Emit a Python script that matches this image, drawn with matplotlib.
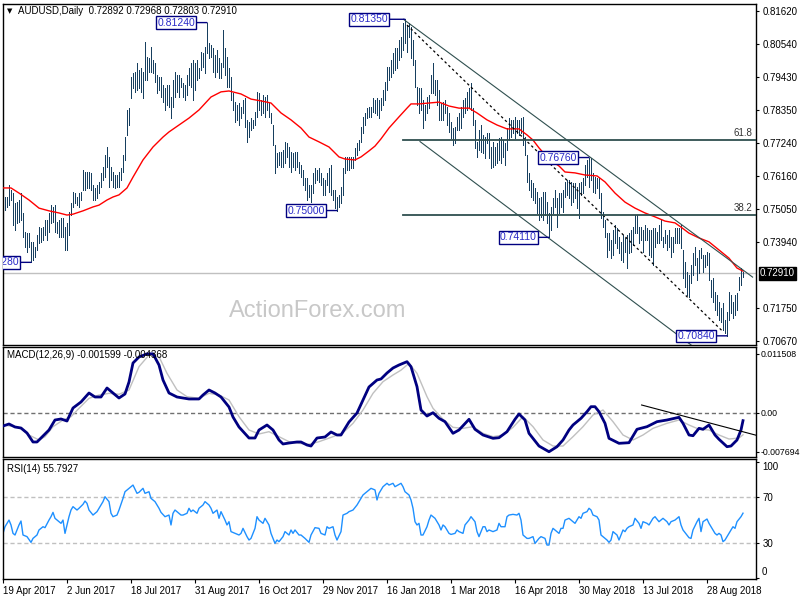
import numpy as np
import matplotlib.pyplot as plt

plt.rcParams['font.family'] = ['Liberation Sans', 'DejaVu Sans']
plt.rcParams['font.size'] = 7

# daily highs / lows, in pips (x 1e-4)
highs = [
    7562, 7545, 7545, 7585, 7568, 7558, 7525, 7528, 7535, 7558,   # 0
    7492, 7429, 7425, 7425, 7396, 7396, 7379, 7419, 7445, 7442,
    7445, 7469, 7469, 7492, 7518, 7512, 7518, 7462, 7469, 7475,
    7475, 7445, 7459, 7495, 7525, 7562, 7558, 7545, 7558, 7562,
    7635, 7628, 7628, 7628, 7625, 7585, 7575, 7585, 7595, 7625,
    7645, 7684, 7711, 7678, 7645, 7628, 7618, 7618, 7628, 7641,   # 50
    7684, 7744, 7834, 7840, 7943, 7957, 7960, 7990, 7967, 7973,
    7960, 8060, 8010, 8006, 8043, 8000, 7990, 7950, 7943, 7943,
    7917, 7907, 7917, 7917, 7877, 7933, 7960, 7950, 7950, 7940,
    7923, 7917, 7950, 7973, 7990, 8000, 7990, 8000, 7973, 8026,
    8023, 8043, 8124, 8056, 8050, 8040, 8016, 8033, 8006, 7990,   # 100
    8099, 8040, 8010, 7973, 7943, 7890, 7860, 7850, 7857, 7844,
    7867, 7874, 7801, 7794, 7807, 7801, 7827, 7894, 7890, 7867,
    7884, 7877, 7884, 7857, 7824, 7784, 7718, 7691, 7694, 7694,
    7701, 7728, 7724, 7711, 7694, 7691, 7694, 7694, 7661, 7651,
    7635, 7608, 7608, 7585, 7585, 7625, 7641, 7635, 7641, 7625,   # 150
    7608, 7601, 7625, 7641, 7651, 7568, 7568, 7545, 7552, 7578,
    7641, 7678, 7678, 7678, 7678, 7678, 7708, 7724, 7734, 7777,
    7811, 7824, 7840, 7844, 7844, 7874, 7867, 7874, 7867, 7874,
    7900, 7927, 7977, 7977, 8000, 8023, 8040, 8040, 8066, 8076,
    8123, 8135, 8116, 8123, 8109, 8066, 8000, 7910, 7907, 7907,   # 200
    7867, 7850, 7877, 7884, 7950, 7990, 7933, 7933, 7900, 7857,
    7860, 7867, 7844, 7824, 7794, 7774, 7777, 7811, 7824, 7844,
    7867, 7874, 7894, 7907, 7923, 7840, 7801, 7728, 7767, 7784,
    7751, 7744, 7757, 7757, 7711, 7728, 7711, 7724, 7741, 7744,
    7734, 7724, 7774, 7807, 7801, 7801, 7811, 7801, 7801, 7807,   # 250
    7811, 7744, 7684, 7625, 7601, 7591, 7575, 7562, 7542, 7545,
    7562, 7562, 7528, 7492, 7512, 7542, 7568, 7542, 7558, 7558,
    7568, 7595, 7601, 7601, 7595, 7591, 7591, 7578, 7591, 7595,
    7608, 7651, 7668, 7676, 7674, 7625, 7611, 7608, 7608, 7558,
    7495, 7469, 7425, 7425, 7402, 7435, 7452, 7442, 7412, 7396,   # 300
    7419, 7409, 7419, 7425, 7435, 7445, 7485, 7485, 7445, 7445,
    7435, 7452, 7442, 7435, 7435, 7442, 7442, 7429, 7452, 7469,
    7412, 7435, 7419, 7435, 7412, 7412, 7442, 7442, 7442, 7452,
    7369, 7329, 7296, 7286, 7319, 7359, 7379, 7342, 7369, 7376,
    7352, 7352, 7362, 7359, 7269, 7276, 7230, 7220, 7196, 7176,   # 350
    7193, 7137, 7163, 7230, 7220, 7196, 7220, 7226, 7279, 7309,
    7297,
]
lows = [
    7492, 7502, 7512, 7518, 7535, 7452, 7435, 7459, 7462, 7469,   # 0
    7412, 7379, 7362, 7379, 7328, 7336, 7346, 7369, 7392, 7396,
    7402, 7419, 7402, 7429, 7459, 7462, 7429, 7425, 7412, 7412,
    7412, 7369, 7369, 7419, 7485, 7512, 7525, 7518, 7512, 7535,
    7568, 7568, 7575, 7575, 7568, 7535, 7535, 7542, 7558, 7578,
    7601, 7611, 7645, 7578, 7601, 7578, 7575, 7578, 7578, 7601,   # 50
    7628, 7668, 7751, 7784, 7874, 7907, 7894, 7900, 7907, 7894,
    7874, 7933, 7933, 7960, 7960, 7957, 7927, 7890, 7900, 7877,
    7860, 7834, 7850, 7844, 7807, 7844, 7877, 7894, 7877, 7910,
    7877, 7867, 7884, 7917, 7910, 7867, 7900, 7933, 7940, 7967,
    7977, 7957, 8023, 8006, 8010, 7960, 7943, 7960, 7940, 7940,   # 100
    7977, 7950, 7910, 7910, 7867, 7834, 7794, 7801, 7784, 7807,
    7824, 7777, 7728, 7744, 7767, 7774, 7784, 7811, 7834, 7817,
    7824, 7811, 7834, 7811, 7791, 7718, 7625, 7645, 7651, 7645,
    7645, 7658, 7678, 7645, 7628, 7645, 7635, 7645, 7625, 7611,
    7585, 7568, 7535, 7545, 7528, 7558, 7591, 7601, 7595, 7585,   # 150
    7552, 7552, 7585, 7562, 7552, 7535, 7508, 7500, 7512, 7525,
    7552, 7625, 7635, 7635, 7641, 7641, 7668, 7684, 7701, 7728,
    7757, 7784, 7807, 7811, 7811, 7827, 7824, 7817, 7807, 7834,
    7850, 7867, 7900, 7933, 7943, 7957, 7967, 7973, 8000, 8010,
    8033, 8056, 8026, 8076, 8006, 7983, 7910, 7850, 7824, 7834,   # 200
    7774, 7801, 7824, 7840, 7890, 7890, 7884, 7850, 7801, 7801,
    7801, 7824, 7784, 7761, 7741, 7718, 7724, 7767, 7767, 7774,
    7811, 7824, 7834, 7844, 7834, 7784, 7708, 7678, 7701, 7694,
    7691, 7674, 7724, 7674, 7641, 7645, 7651, 7658, 7668, 7658,
    7678, 7651, 7701, 7734, 7744, 7757, 7741, 7757, 7751, 7757,   # 250
    7718, 7684, 7595, 7568, 7545, 7535, 7525, 7492, 7469, 7479,
    7469, 7485, 7459, 7411, 7435, 7492, 7512, 7445, 7492, 7512,
    7495, 7545, 7552, 7542, 7518, 7528, 7542, 7508, 7475, 7552,
    7558, 7585, 7611, 7578, 7601, 7562, 7558, 7575, 7542, 7475,
    7445, 7412, 7346, 7369, 7342, 7352, 7392, 7376, 7359, 7336,   # 300
    7329, 7362, 7309, 7359, 7362, 7386, 7425, 7425, 7392, 7402,
    7362, 7402, 7402, 7352, 7346, 7319, 7379, 7392, 7392, 7402,
    7379, 7392, 7369, 7379, 7346, 7362, 7392, 7392, 7392, 7376,
    7276, 7246, 7220, 7213, 7259, 7286, 7319, 7269, 7293, 7342,
    7296, 7313, 7319, 7269, 7213, 7196, 7170, 7153, 7137, 7130,   # 350
    7103, 7093, 7084, 7137, 7160, 7143, 7153, 7170, 7236, 7253,
    7280,
]

# red moving average, (bar, pips)
ma_points = [
    (0, 7575), (4, 7575), (8, 7558), (13, 7535), (18, 7508), (23, 7499), (28, 7492), (32, 7485),
    (35, 7488), (40, 7499), (45, 7512), (48, 7518), (52, 7535), (55, 7545), (58, 7552), (62, 7575),
    (65, 7611), (70, 7668), (75, 7711), (80, 7744), (83, 7761), (88, 7784), (93, 7807), (98, 7834),
    (104, 7877), (109, 7894), (113, 7897), (119, 7887), (124, 7870), (129, 7864), (134, 7857),
    (139, 7824), (144, 7801), (149, 7774), (153, 7744), (158, 7728), (163, 7711), (168, 7678),
    (171, 7671), (176, 7668), (179, 7678), (183, 7698), (186, 7714), (189, 7738), (193, 7774),
    (198, 7811), (202, 7840), (204, 7854), (208, 7854), (213, 7857), (218, 7860), (223, 7847),
    (228, 7840), (233, 7840), (237, 7824), (242, 7801), (247, 7784), (252, 7771), (258, 7771),
    (262, 7751), (265, 7734), (268, 7708), (272, 7678), (275, 7661), (278, 7648), (281, 7628),
    (286, 7625), (291, 7618), (297, 7615), (301, 7595), (306, 7558), (311, 7528), (316, 7508),
    (321, 7492), (326, 7479), (331, 7465), (336, 7459), (339, 7445), (343, 7425), (348, 7409),
    (353, 7396), (358, 7369), (363, 7342), (367, 7309), (370, 7299),
]

# MACD main / signal, (bar, value x 1e-4)
macd_main = [
    (0, -26.5), (3, -22.5), (6, -28.4), (9, -30.4), (12, -40.2), (15, -57.8), (17, -57.8),
    (19, -50.0), (23, -34.3), (26, -14.7), (29, -12.7), (32, -16.7), (35, 8.8), (39, 20.6),
    (43, 38.2), (46, 30.4), (49, 30.4), (52, 48.0), (55, 38.2), (58, 28.4), (61, 36.3),
    (63, 59.8), (65, 97.0), (68, 108.8), (72, 115.0), (75, 115.0), (78, 93.1), (80, 63.7),
    (83, 38.2), (87, 30.4), (90, 28.4), (93, 26.5), (98, 26.5), (100, 34.3), (103, 44.1),
    (106, 38.2), (109, 30.4), (113, 10.8), (115, -8.8), (118, -28.4), (123, -50.0), (126, -50.0),
    (128, -34.3), (132, -24.5), (135, -34.3), (138, -53.9), (140, -61.7), (143, -59.8),
    (147, -57.8), (149, -57.8), (152, -63.7), (154, -65.7), (157, -50.0), (161, -48.0),
    (164, -38.2), (167, -44.1), (169, -44.1), (173, -18.6), (177, -1.0), (180, 24.5),
    (183, 50.0), (187, 63.7), (189, 65.7), (192, 77.4), (195, 87.2), (198, 93.1), (202, 99.6),
    (204, 89.8), (207, 50.6), (209, 4.9), (212, -6.9), (215, -0.4), (218, -11.4), (221, -18.0),
    (225, -40.8), (228, -34.3), (233, -13.3), (236, -32.9), (240, -44.1), (245, -50.6),
    (248, -49.4), (252, -37.6), (256, -13.3), (258, -2.9), (261, -14.7), (263, -40.8),
    (268, -65.7), (270, -70.2), (273, -76.9), (277, -67.0), (280, -53.9), (283, -34.3),
    (285, -24.5), (289, -11.4), (292, 1.6), (294, 11.4), (296, 11.4), (298, 1.6), (301, -21.2),
    (303, -50.6), (308, -60.4), (313, -59.2), (317, -32.9), (322, -27.8), (327, -18.0),
    (332, -14.7), (338, -9.4), (340, -21.2), (343, -44.1), (345, -45.5), (348, -31.0),
    (350, -32.9), (353, -24.5), (356, -44.1), (358, -52.5), (362, -67.0), (364, -65.7),
    (367, -53.9), (369, -34.3), (370, -16.0),
]
macd_signal = [
    (0, -24.5), (8, -29.1), (13, -44.1), (18, -53.9), (21, -47.4), (25, -27.8), (30, -14.7),
    (34, -8.2), (38, 8.2), (43, 27.8), (48, 34.3), (53, 37.6), (58, 35.7), (63, 44.1),
    (68, 89.8), (73, 112.7), (78, 109.4), (82, 76.8), (87, 44.1), (92, 31.0), (98, 27.8),
    (103, 37.6), (108, 34.3), (113, 24.5), (118, -8.2), (123, -34.3), (128, -42.1),
    (133, -37.6), (138, -47.4), (143, -57.2), (148, -60.4), (153, -62.3), (158, -57.2),
    (165, -47.4), (170, -39.6), (175, -21.2), (180, 4.9), (185, 37.6), (190, 60.4), (195, 73.5),
    (199, 83.0), (203, 96.4), (207, 76.8), (212, 31.0), (215, 8.2), (220, -13.3), (225, -29.1),
    (230, -31.0), (235, -27.8), (240, -40.8), (245, -47.4), (250, -44.1), (255, -29.1),
    (260, -8.2), (265, -27.8), (270, -53.9), (275, -65.7), (280, -65.7), (285, -47.4),
    (290, -27.8), (295, -4.9), (300, 4.9), (305, -18.0), (310, -44.1), (315, -53.9),
    (320, -44.1), (325, -31.0), (332, -21.2), (338, -14.7), (343, -24.5), (348, -32.9),
    (353, -34.3), (358, -44.1), (363, -52.0), (368, -50.0), (370, -43.7),
]

# RSI(14), (bar, value)
rsi_points = [
    (0, 38.5), (1, 44.2), (3, 49.9), (4, 45.7), (5, 38.5), (6, 37.1), (8, 45.7), (9, 49.1),
    (10, 37.1), (12, 35.7), (14, 30.8), (15, 34.2), (17, 37.1), (18, 41.4), (20, 44.2),
    (21, 43.4), (23, 49.9), (24, 52.8), (25, 56.5), (26, 51.4), (28, 48.5), (29, 47.1),
    (30, 49.9), (31, 38.5), (33, 52.8), (34, 58.5), (35, 61.4), (37, 58.5), (38, 60.0),
    (40, 63.4), (41, 66.2), (42, 64.2), (43, 58.5), (45, 54.2), (47, 57.1), (48, 60.0),
    (50, 65.7), (51, 69.9), (53, 65.7), (54, 55.7), (55, 52.8), (57, 54.2), (58, 58.5),
    (60, 68.5), (61, 74.2), (63, 77.1), (64, 78.5), (65, 79.9), (67, 72.8), (68, 73.7),
    (70, 77.1), (71, 72.8), (73, 74.2), (74, 68.5), (76, 65.7), (78, 60.0), (79, 56.5),
    (81, 52.8), (83, 54.2), (84, 45.7), (85, 55.7), (86, 58.5), (88, 55.7), (89, 54.2),
    (90, 54.2), (92, 55.7), (93, 60.0), (94, 57.1), (95, 58.5), (97, 55.7), (98, 60.0),
    (100, 62.8), (101, 65.7), (103, 62.8), (104, 60.0), (105, 55.7), (107, 58.5), (108, 51.4),
    (109, 57.1), (111, 49.9), (112, 45.7), (113, 48.5), (114, 40.0), (116, 38.5), (118, 37.1),
    (119, 38.5), (120, 42.8), (122, 35.7), (123, 32.8), (124, 34.2), (126, 42.8), (127, 52.8),
    (128, 49.9), (130, 47.1), (131, 51.4), (133, 45.7), (134, 38.5), (136, 29.9), (137, 32.8),
    (138, 31.4), (140, 35.7), (141, 40.0), (143, 37.1), (144, 41.4), (145, 38.5), (146, 41.4),
    (148, 37.1), (149, 37.1), (151, 34.2), (153, 30.8), (154, 37.1), (156, 43.4), (158, 42.8),
    (159, 38.5), (161, 37.1), (162, 44.2), (163, 42.8), (165, 44.2), (166, 37.1), (167, 32.8),
    (169, 40.0), (170, 54.2), (172, 55.7), (173, 57.1), (175, 58.5), (177, 62.8), (178, 65.7),
    (180, 71.4), (182, 74.2), (184, 77.1), (186, 75.7), (187, 67.1), (188, 72.8), (190, 78.5),
    (192, 81.4), (193, 79.9), (195, 81.4), (196, 78.5), (198, 80.5), (199, 81.4), (200, 78.5),
    (201, 74.2), (203, 71.4), (204, 67.1), (205, 60.0), (206, 48.5), (207, 45.7), (208, 47.1),
    (209, 37.1), (210, 37.1), (212, 44.2), (213, 49.9), (214, 54.2), (216, 51.4), (218, 45.7),
    (219, 41.4), (220, 45.7), (221, 44.2), (223, 38.5), (224, 37.6), (226, 38.5), (227, 41.4),
    (228, 40.0), (230, 38.5), (231, 45.7), (233, 49.9), (234, 52.8), (236, 48.5), (237, 40.0),
    (238, 35.7), (240, 44.2), (241, 44.2), (242, 40.0), (243, 41.4), (245, 40.0), (247, 41.4),
    (248, 47.1), (249, 44.2), (251, 44.2), (252, 52.8), (253, 54.2), (255, 54.8), (257, 54.2),
    (258, 55.7), (259, 49.9), (260, 37.1), (262, 34.2), (263, 34.2), (265, 35.7), (266, 29.9),
    (268, 34.2), (269, 35.7), (271, 34.2), (272, 28.5), (273, 28.5), (274, 38.5), (275, 42.8),
    (276, 41.4), (278, 38.5), (279, 42.8), (280, 42.8), (281, 49.9), (283, 51.4), (284, 49.9),
    (285, 48.5), (286, 47.1), (288, 52.8), (289, 51.4), (290, 55.7), (292, 57.1), (293, 60.0),
    (294, 58.5), (295, 54.2), (297, 52.8), (298, 49.9), (299, 37.1), (300, 35.7), (302, 32.8),
    (303, 30.8), (304, 32.8), (305, 40.0), (307, 37.1), (308, 32.8), (310, 41.4), (311, 40.0),
    (312, 42.8), (313, 44.2), (315, 45.7), (316, 51.4), (318, 47.1), (319, 42.8), (320, 48.5),
    (322, 47.1), (323, 45.7), (325, 51.4), (326, 52.8), (328, 48.5), (329, 49.9), (330, 51.4),
    (332, 48.5), (333, 45.7), (334, 48.5), (336, 49.9), (337, 51.4), (338, 52.8), (339, 45.7),
    (340, 41.4), (342, 37.1), (343, 34.8), (344, 34.2), (345, 41.4), (347, 48.5), (348, 51.4),
    (349, 40.0), (350, 48.5), (352, 50.8), (353, 47.1), (354, 44.2), (356, 38.5), (357, 37.1),
    (358, 38.5), (359, 37.1), (360, 31.4), (361, 32.8), (362, 35.7), (364, 41.4), (365, 44.2),
    (366, 42.8), (367, 48.5), (369, 52.8), (370, 55.8),
]

# swing labels (bar, price)
swings = [(14, 0.7328), (102, 0.8124), (167, 0.7500), (201, 0.8135),
          (273, 0.7411), (293, 0.7676), (362, 0.7084)]
swing_gap = [10, 10, 10, 15, 10, 10, 10]

fib_levels = [(0.7734, '61.8'), (0.7485, '38.2')]
last_price = 0.72910
price_ticks = [0.81620, 0.80540, 0.79430, 0.78350, 0.77240, 0.76160,
               0.75050, 0.73940, 0.71750, 0.70670]
date_labels = ['19 Apr 2017', '2 Jun 2017', '18 Jul 2017', '31 Aug 2017',
               '16 Oct 2017', '29 Nov 2017', '16 Jan 2018', '1 Mar 2018',
               '16 Apr 2018', '30 May 2018', '13 Jul 2018', '28 Aug 2018']

high = np.array(highs) / 1e4
low = np.array(lows) / 1e4
bars = np.arange(len(high))

BAR = '#173f5f'
CHAN = '#2f4f4f'
W, H = 800, 600

fig = plt.figure(figsize=(8, 6), dpi=100)


def panel(top, bottom):
    return fig.add_axes([2.5 / W, 1 - bottom / H, (756 - 2.5) / W, (bottom - top) / H])


def ftext(x, y, s, **kw):
    fig.text(x / W, 1 - y / H, s, **kw)


ax = panel(4, 344.5)
ax_m = panel(346.5, 457)
ax_r = panel(458.5, 579)

for a in (ax, ax_m, ax_r):
    a.set_xlim(-0.25, 376.5)
    for s in a.spines.values():
        s.set_linewidth(1)
        s.set_color('black')
    a.tick_params(axis='y', left=False, right=True, labelleft=False, labelright=True,
                  length=2.5, width=0.8, pad=2, labelsize=7, direction='out')
for a in (ax, ax_m):
    a.tick_params(axis='x', bottom=False, labelbottom=False)

# ---- price panel
ax.axhline(last_price, color='#c0c0c0', lw=1, zorder=1)
ax.vlines(bars, low, high, color=BAR, lw=0.72, antialiased=False, zorder=2)
mx, my = zip(*ma_points)
ax.plot(mx, np.array(my) / 1e4, color='red', lw=1, zorder=3)

ax.plot([200.2, 374.8], [0.8135, 0.7279], color=CHAN, lw=0.8, zorder=4)
ax.plot([208.5, 345], [0.7729, 0.7049], color=CHAN, lw=0.8, zorder=4)
ax.plot([202, 360], [0.8116, 0.7098], color='black', lw=0.9, ls=(0, (2, 2.2)), zorder=4)
for lvl, name in fib_levels:
    ax.plot([200.2, 376.5], [lvl, lvl], color=CHAN, lw=1.3, zorder=4)
    ax.annotate(name, xy=(374.5, lvl), xytext=(0, 2), textcoords='offset pixels',
                ha='right', va='bottom', color='#333333', fontsize=7)

for (b, p), g in zip(swings, swing_gap):
    ax.annotate(f'{p:.5f}', xy=(b, p), xytext=(-g - 2, 0), textcoords='offset pixels',
                ha='right', va='center', color='#2a2ac8', fontsize=7.5,
                bbox=dict(boxstyle='square,pad=0.12', fc='white', ec='#000080', lw=1),
                arrowprops=dict(arrowstyle='-', color='#000080', lw=1,
                                shrinkA=0, shrinkB=0),
                clip_on=True, zorder=6)

ax.set_ylim(0.705526, 0.818572)
ax.set_yticks(price_ticks)
ax.set_yticklabels([f'{t:.5f}' for t in price_ticks])
ax.annotate(f'{last_price:.5f}', xy=(1, last_price), xycoords=('axes fraction', 'data'),
            xytext=(4, 0), textcoords='offset pixels', ha='left', va='center',
            color='white', fontsize=7,
            bbox=dict(boxstyle='square,pad=0.15', fc='black', ec='black'),
            annotation_clip=False)

ftext(318, 311, 'ActionForex.com', color='#c8c8c8', fontsize=17, ha='center', va='center')
ftext(9.5, 11, '\u25bc', fontsize=5, ha='center', va='center', family='DejaVu Sans')
ftext(18, 11, 'AUDUSD,Daily  0.72892 0.72968 0.72803 0.72910', va='center', fontsize=7)

# ---- MACD panel
ax_m.axhline(0, color='#707070', lw=1, ls=(0, (3, 2)), zorder=1)
sx, sy = zip(*macd_signal)
ax_m.plot(sx, np.array(sy) / 1e4, color='#c0c0c0', lw=1, zorder=2)
mx, my = zip(*macd_main)
ax_m.plot(mx, np.array(my) / 1e4, color='#000080', lw=2, zorder=3)
ax_m.plot([319.3, 376.5], [0.00147, -0.00445], color='black', lw=0.8, zorder=4)
ax_m.set_ylim(-0.008722, 0.012936)
ax_m.set_yticks([0.011508, 0.0, -0.007694])
ax_m.set_yticklabels(['0.011508', '0.00', '-0.007694'])
ax_m.tick_params(axis='y', labelsize=6.3, pad=1)
ftext(7, 355.5, 'MACD(12,26,9) -0.001599 -0.004368', va='center', fontsize=7)

# ---- RSI panel
for lvl in (70, 30):
    ax_r.axhline(lvl, color='#c0c0c0', lw=1, ls=(0, (3, 2)), zorder=1)
rx, ry = zip(*rsi_points)
ax_r.plot(rx, ry, color='#1e90ff', lw=1, zorder=2)
ax_r.set_ylim(-0.6, 102.66)
ax_r.set_yticks([100, 70, 30, 0])
ax_r.set_yticklabels(['', '70', '30', ''])
ftext(762, 466.7, '100', va='center', fontsize=7)
ftext(762, 572, '0', va='center', fontsize=7)
ftext(7, 469, 'RSI(14) 55.7927', va='center', fontsize=7)

ax_r.set_xticks(np.arange(len(date_labels)) * 32)
ax_r.set_xticklabels(date_labels, ha='left')
ax_r.tick_params(axis='x', length=3, width=0.8, pad=2, labelsize=7, direction='out')

fig.savefig('out.png', dpi=100)
